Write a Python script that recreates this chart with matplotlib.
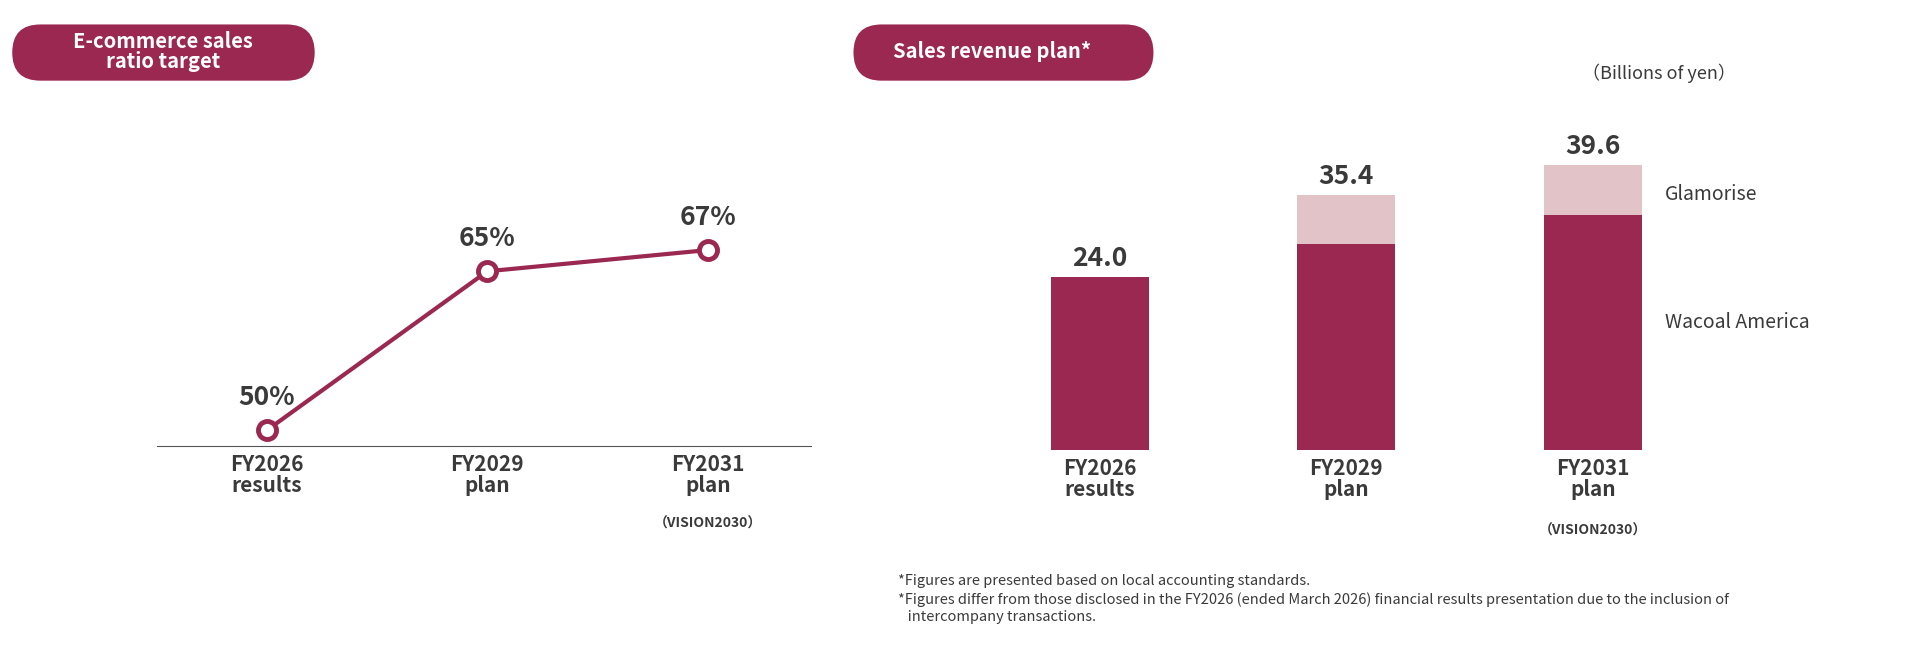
import matplotlib.pyplot as plt
from matplotlib.patches import FancyBboxPatch
from matplotlib.transforms import blended_transform_factory

plt.rcParams['font.family'] = ['Noto Sans CJK JP', 'DejaVu Sans']

DARK = '#9B2850'
LIGHT = '#E2C3C7'
TXT = '#3a3a3a'

periods = ['FY2026\nresults', 'FY2029\nplan', 'FY2031\nplan']
ec_ratio = [50, 65, 67]
wacoal_america = [24.0, 28.6, 32.7]
glamorise = [0.0, 6.8, 6.9]
totals = [24.0, 35.4, 39.6]

W, H = 1568, 540
fig = plt.figure(figsize=(19.2, 6.6), dpi=100)


def box(x0, y0, x1, y1):
    return [x0 / W, 1 - y1 / H, (x1 - x0) / W, (y1 - y0) / H]


# left: line chart
ax1 = fig.add_axes(box(128, 150, 662, 365))
xs = range(len(ec_ratio))
ax1.plot(xs, ec_ratio, color=DARK, lw=3, marker='o', ms=13,
         mfc='white', mec=DARK, mew=3.5, zorder=3, clip_on=False)
for x, v in zip(xs, ec_ratio):
    ax1.annotate(f'{v}%', (x, v), xytext=(0, 14), textcoords='offset points',
                 ha='center', va='bottom', fontsize=19, fontweight='bold', color=TXT)
ax1.set_xlim(-0.5, 2.467)
ax1.set_ylim(48.5, 73.3)
ax1.set_yticks([])
ax1.set_xticks(list(xs), periods, fontsize=15, fontweight='bold', color=TXT,
               linespacing=1.0)
ax1.tick_params(axis='x', length=0, pad=6)
for s in ['top', 'right', 'left']:
    ax1.spines[s].set_visible(False)
ax1.spines['bottom'].set_color('#555555')
ax1.patch.set_alpha(0)
tr = blended_transform_factory(ax1.transData, fig.transFigure)
ax1.text(2, 1 - 428 / H, '（VISION2030）', transform=tr, ha='center', va='center',
         fontsize=10, fontweight='bold', color=TXT)

# right: stacked bars
ax2 = fig.add_axes(box(840, 100, 1360, 368))
bx = range(len(totals))
ax2.bar(bx, wacoal_america, width=0.397, color=DARK)
ax2.bar(bx, glamorise, width=0.397, bottom=wacoal_america, color=LIGHT)
for x, t in zip(bx, totals):
    ax2.text(x, t + 0.8, f'{t:.1f}', ha='center', va='bottom', fontsize=19,
             fontweight='bold', color=TXT)
ax2.text(2.29, wacoal_america[2] + glamorise[2] / 2 - 0.6, 'Glamorise', ha='left',
         va='center', fontsize=14, color=TXT)
ax2.text(2.29, wacoal_america[2] / 2 + 1.4, 'Wacoal America', ha='left',
         va='center', fontsize=14, color=TXT)
ax2.set_xlim(-0.288, 2.293)
ax2.set_ylim(0, 45.6)
ax2.set_yticks([])
ax2.set_xticks(list(bx), periods, fontsize=15, fontweight='bold', color=TXT,
               linespacing=1.0)
ax2.tick_params(axis='x', length=0, pad=6)
for s in ax2.spines.values():
    s.set_visible(False)
ax2.patch.set_alpha(0)
tr2 = blended_transform_factory(ax2.transData, fig.transFigure)
ax2.text(2, 1 - 434 / H, '（VISION2030）', transform=tr2, ha='center', va='center',
         fontsize=10, fontweight='bold', color=TXT)

# overlay for headers and notes
ov = fig.add_axes([0, 0, 1, 1], zorder=-1)
ov.set_xlim(0, W)
ov.set_ylim(H, 0)
ov.axis('off')
for x0, x1, tx, label in [(10, 257, 133, 'E-commerce sales\nratio target'),
                          (697, 942, 810, 'Sales revenue plan*')]:
    ov.add_patch(FancyBboxPatch((x0, 20), x1 - x0, 46,
                                boxstyle='round,pad=0,rounding_size=23',
                                fc=DARK, ec='none'))
    ov.text(tx, 42, label, ha='center', va='center', fontsize=14.5,
            fontweight='bold', color='white', linespacing=0.95)
ov.text(1292, 60, '（Billions of yen）', ha='left', va='center', fontsize=13,
        color=TXT)
notes = ('*Figures are presented based on local accounting standards.\n'
         '*Figures differ from those disclosed in the FY2026 (ended March 2026) '
         'financial results presentation due to the inclusion of\n'
         '   intercompany transactions.')
ov.text(733, 470, notes, ha='left', va='top', fontsize=10.5, color=TXT,
        linespacing=1.3)

fig.savefig('out.png', dpi=100, facecolor='white')
